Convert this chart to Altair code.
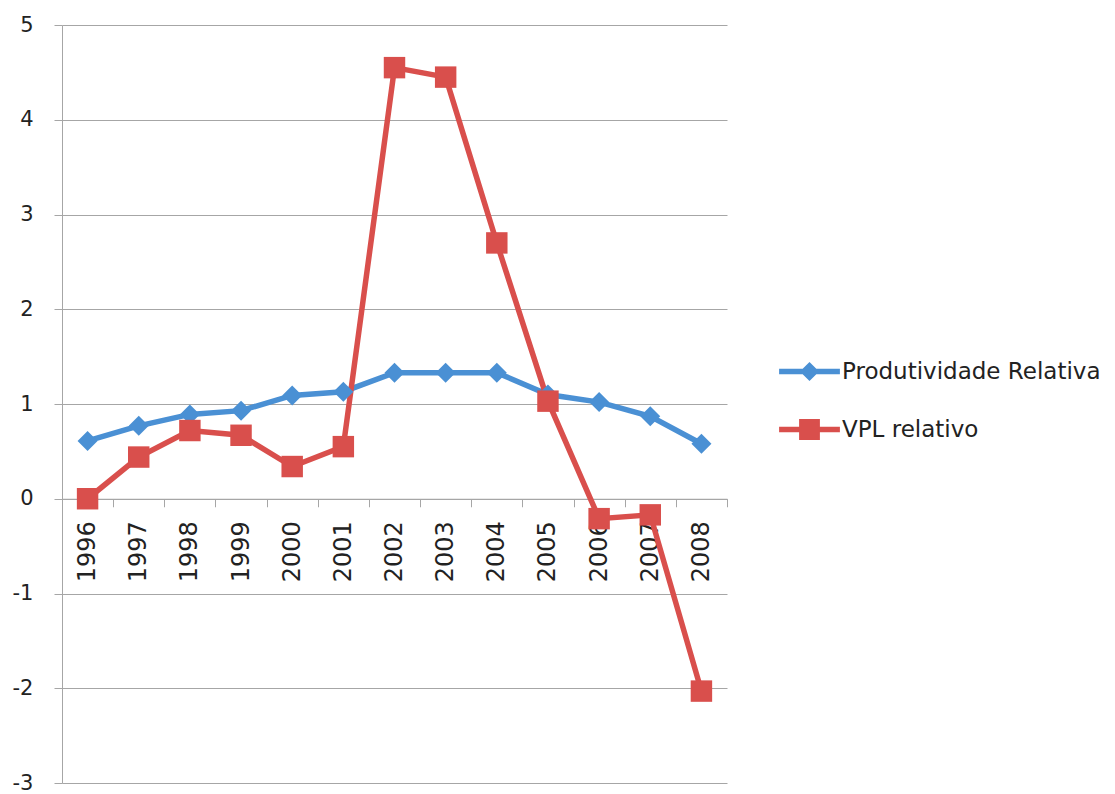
import altair as alt
import pandas as pd

years = ["1996", "1997", "1998", "1999", "2000", "2001", "2002",
         "2003", "2004", "2005", "2006", "2007", "2008"]
produtividade = [0.61, 0.77, 0.89, 0.93, 1.09, 1.13, 1.33, 1.33, 1.33, 1.10, 1.02, 0.87, 0.58]
vpl = [0.00, 0.44, 0.72, 0.67, 0.34, 0.55, 4.55, 4.45, 2.70, 1.03, -0.21, -0.17, -2.03]
series_names = ["Produtividade Relativa", "VPL relativo"]
colors = ["#4A90D4", "#D94F4C"]

rows = []
for y, a, b in zip(years, produtividade, vpl):
    rows.append({"year": y, "series": series_names[0], "value": a})
    rows.append({"year": y, "series": series_names[1], "value": b})
df = pd.DataFrame(rows)

W, H = 665, 758
FONT = "DejaVu Sans"
GRID = "#A6A6A6"

path_blue = "M-3.8,-0.33H3.8V0.33H-3.8Z M0,-1.2L1.2,0L0,1.2L-1.2,0Z"
path_red = "M-3.8,-0.33H3.8V0.33H-3.8Z M-1.3,-1.3H1.3V1.3H-1.3Z"

x_enc = alt.X(
    "year:O",
    sort=years,
    scale=alt.Scale(type="band", paddingInner=0, paddingOuter=0),
    bandPosition=0.5,
    axis=alt.Axis(
        title=None, offset=-H * 3 / 8, tickBand="extent", tickSize=8,
        labelAngle=270, labelAlign="right", labelBaseline="middle",
        labelPadding=14, labelFontSize=24, labelFont=FONT, labelColor="#222",
        domainColor=GRID, tickColor=GRID, grid=False,
    ),
)
y_enc = alt.Y(
    "value:Q",
    scale=alt.Scale(domain=[-3, 5], nice=False, zero=False),
    axis=alt.Axis(
        title=None, values=list(range(-3, 6)), labelExpr="'' + datum.value", grid=True,
        gridColor=GRID, domainColor=GRID, tickColor=GRID, tickSize=8,
        labelPadding=21, labelFontSize=21, labelFont=FONT, labelColor="#222",
    ),
)
color_enc = alt.Color(
    "series:N", scale=alt.Scale(domain=series_names, range=colors), sort=series_names,
    legend=alt.Legend(
        title=None, orient="none", legendX=736, legendY=335, padding=0,
        labelFontSize=23, labelFont=FONT, labelColor="#222", labelLimit=0,
        symbolSize=256, labelOffset=21, rowPadding=34, symbolOpacity=1,
        symbolStrokeWidth=0,
        symbolFillColor=alt.ExprRef(expr="scale('color', datum.value)"),
        symbolType=alt.ExprRef(expr="datum.value === 'VPL relativo' ? '" + path_red + "' : '" + path_blue + "'"),
    ),
)

base = alt.Chart(df).encode(x=x_enc, y=y_enc, color=color_enc)
lines = base.mark_line(strokeWidth=5.5)
pts_blue = base.transform_filter(alt.datum.series == series_names[0]).mark_point(
    filled=True, opacity=1, shape="diamond", size=400)
pts_red = base.transform_filter(alt.datum.series == series_names[1]).mark_point(
    filled=True, opacity=1, shape="square", size=460)

chart = alt.layer(lines, pts_blue, pts_red).properties(
    width=W, height=H, background="white",
    autosize=alt.AutoSizeParams(type="none"),
    padding={"left": 62, "top": 25, "right": 388, "bottom": 11},
).configure_view(stroke=None)

chart.save("out.html", embed_options={"renderer": "svg", "actions": False})
